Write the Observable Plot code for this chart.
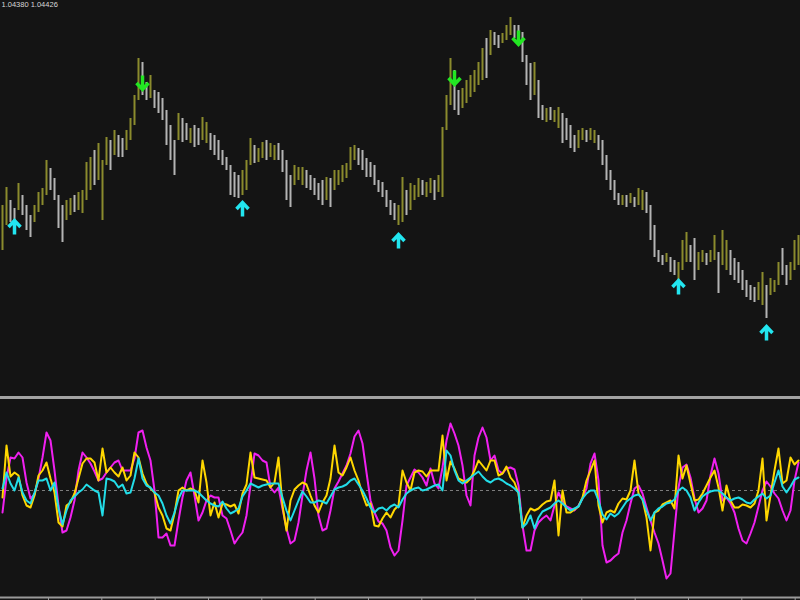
<!DOCTYPE html>
<html><head><meta charset="utf-8">
<script src="https://cdn.jsdelivr.net/npm/d3@7"></script>
<script src="https://cdn.jsdelivr.net/npm/@observablehq/plot@0.6"></script>
<style>
html,body{margin:0;padding:0;background:#141414;overflow:hidden;}
#chart{width:800px;height:600px;}
#chart svg{display:block;}
.sep{height:3px;background:#a3a3a3;}
</style></head><body><div id="chart"></div>
<script>
// header readout
const headerValues = ["1.04380", "1.04426"];

// price bars: high / low in pips above 1.0000
const barHigh = [
495,513,500,492,517,505,495,485,495,508,
512,540,532,522,505,495,500,502,505,508,
510,538,543,550,557,540,563,560,570,565,
562,570,582,605,642,638,618,625,610,608,
602,590,575,560,587,582,577,572,575,572,
583,578,567,565,560,550,543,535,528,525,
530,540,562,555,552,558,560,557,555,557,
550,540,525,535,533,533,530,525,522,517,
520,523,522,530,530,535,537,553,555,552,
550,542,538,535,520,518,510,500,497,495,
523,510,517,515,522,520,518,522,520,525,
573,605,642,630,610,612,620,625,630,638,
652,662,670,668,665,667,675,683,675,675,
668,645,637,638,620,595,592,593,590,593,
587,582,575,565,570,572,570,572,570,565,
560,545,530,520,507,505,505,507,503,512,
510,508,495,475,450,445,447,443,440,438,
460,468,455,462,448,450,447,450,465,448,
470,460,450,442,438,430,420,415,413,418,
428,415,422,420,438,452,435,438,460,465];
const barLow = [
450,475,478,478,490,485,470,463,478,488,
495,505,510,500,472,458,480,485,488,490,
487,500,510,515,520,480,535,530,545,543,
543,550,560,575,600,605,600,602,592,587,
580,555,540,525,560,558,560,557,553,555,
560,557,550,545,540,535,530,505,503,502,
505,510,535,537,538,542,540,543,540,540,
528,500,493,515,520,515,512,510,505,500,
495,500,493,510,515,518,522,530,540,535,
530,523,523,515,508,503,493,485,480,475,
478,485,490,500,503,505,503,507,500,508,
503,570,595,590,585,592,597,603,608,615,
620,622,645,655,652,657,660,665,662,660,
638,615,600,605,582,580,578,580,578,572,
557,560,552,548,552,560,558,560,557,550,
535,520,510,500,495,495,493,497,493,495,
490,487,460,443,438,435,438,428,425,420,
430,438,438,420,430,438,435,438,440,407,
435,430,425,420,417,410,403,400,398,400,
395,382,405,408,415,425,415,420,430,435];
// bar direction: U = up bar, D = down bar
const barDir = [
"UUDDUDDDUU","UUDDDDUUDU","UUUDUUUDUD","DUUUUDDUDD","DDDDUDDUDD",
"UUDDDDDDDD","UUUDUUDUUD","DDDUUUDDDD","DUDUUUUUUD","DDDDDDDDDU",
"UDUUUDUUDU","UUUDDUUUUU","UDUDDUUUDD","DDDUDDUDUU","DDDDUUDUUD",
"DDDDDUDUDU","UDDDDDUDDU","UUDDUUDUUD","UUDDDDDDDU","UDUUUDDUUU"].join("");

// signal arrows (bar index, level in pips above 1.0000)
const buyBars = [3, 60, 99, 169, 191];
const buyLevel = [473, 491, 459, 413, 367];
const sellBars = [35, 113, 129];
const sellLevel = [618, 623, 663];

// oscillator lines (one value per bar, 0 = dashed level)
const oscMagenta = [
-22,12,33,32,38,33,8,-8,-4,12,
33,58,50,20,-15,-42,-40,-27,-10,20,
38,33,27,19,10,12,18,23,28,30,
20,20,20,32,58,60,43,30,0,-47,
-47,-43,-55,-55,-30,-7,10,18,-5,-30,
-22,-10,-5,-7,-7,-25,-28,-40,-53,-47,
-42,-25,5,37,35,30,28,3,-2,3,
-18,-38,-53,-50,-32,-5,20,38,12,-25,
-40,-38,-20,2,9,17,25,37,54,60,
47,18,-10,-22,-31,-33,-40,-57,-65,-60,
-30,5,13,21,18,13,5,22,7,2,
23,50,67,57,45,25,-5,-15,35,53,
63,53,30,35,20,17,22,23,21,5,
-35,-60,-60,-40,-32,-28,-25,-30,-15,-2,
-10,-16,-18,-20,-15,-8,2,27,37,10,
-55,-72,-70,-66,-63,-42,-30,-13,2,5,
-3,-17,-30,-42,-53,-70,-88,-83,-40,3,
23,26,13,-8,-22,-18,-10,15,32,17,
-10,-7,-13,-22,-38,-50,-53,-43,-32,-16,
0,9,4,-3,-8,-20,-30,-20,10,28];
const oscYellow = [
-7,45,14,18,15,-5,-15,-17,-5,15,
20,28,12,-2,-32,-36,-15,-12,-3,12,
27,32,32,28,10,42,18,23,18,14,
23,10,15,38,33,17,7,2,-2,-17,
-25,-38,-40,-23,0,3,0,2,0,-12,
30,8,-25,-12,-27,-13,-14,-16,-14,-23,
-3,6,38,13,12,11,10,3,8,33,
-15,-40,-10,1,5,8,6,-5,-15,-22,
-12,-5,12,45,18,15,23,33,20,10,
-4,-15,-13,-35,-36,-28,-22,-27,-19,-15,
20,8,0,18,20,19,14,20,20,20,
55,10,29,22,12,10,8,12,20,30,
25,20,30,30,15,17,24,13,8,-3,
-37,-25,-18,-20,-18,-14,-11,-10,10,-45,
0,-22,-22,-19,-16,-7,10,20,30,-15,
-32,-22,-20,-22,-13,-8,-9,0,30,-3,
-9,-27,-60,-22,-20,-14,-12,-10,-18,35,
12,25,7,-10,-9,-3,5,13,20,3,
-20,5,-10,-17,-17,-14,-15,-17,-13,0,
32,-30,-5,20,42,7,10,33,26,30];
const oscCyan = [
2,18,7,0,13,-2,-10,-13,-2,10,
10,12,0,8,-18,-34,-20,-10,-6,-2,
1,6,3,0,-2,-25,12,11,9,3,
6,-3,-2,12,32,12,5,3,-2,-5,
-13,-25,-33,-22,-8,0,0,0,0,-2,
-6,-10,-13,-15,-16,-11,-18,-23,-21,-18,
-6,0,7,5,3,5,6,7,7,7,
-7,-20,-30,-20,-10,-1,-6,-12,-12,-10,
-11,-13,-6,1,3,4,6,10,12,6,
0,-8,-17,-22,-18,-17,-20,-16,-14,-17,
-9,-3,0,2,3,0,1,3,5,6,
0,40,35,20,10,7,10,13,16,19,
14,10,8,11,12,10,7,5,2,-2,
-37,-33,-25,-38,-27,-21,-19,-17,-13,-10,
-13,-17,-20,-18,-16,-8,-3,0,0,-10,
-24,-29,-23,-26,-23,-17,-11,-8,-5,-4,
-9,-20,-30,-22,-18,-16,-13,-12,-9,0,
3,0,-7,-20,-12,-6,-3,-1,0,0,
-3,-7,-10,-8,-7,-9,-12,-13,-9,-6,
-3,-8,-5,8,20,4,-2,4,11,13];

// time axis tick positions (in bars)
const timeTicks = [11.5, 24.83, 38.17, 51.5, 64.83, 78.17, 91.5, 104.83, 118.17, 131.5, 144.83, 158.17, 171.5, 184.83, 198.17];

const BG = "#141414";
const bars = barHigh.map((h, i) => ({i, high: h, low: barLow[i], up: barDir[i] === "U"}));
const buys = buyBars.map((b, k) => ({i: b, v: buyLevel[k]}));
const sells = sellBars.map((b, k) => ({i: b, v: sellLevel[k]}));

function arrowSymbol(dir) {
  return {
    draw(ctx, size) {
      const s = Math.sqrt(size / Math.PI) / 7;
      const d = dir; // -1 up, 1 down
      ctx.moveTo(0, -d * 7 * s);
      ctx.lineTo(0, d * 6 * s);
      ctx.moveTo(-6 * s, d * 0.5 * s);
      ctx.lineTo(0, d * 7 * s);
      ctx.lineTo(6 * s, d * 0.5 * s);
    }
  };
}

const xDomain = [-0.5, barHigh.length - 0.5];

const pricePane = Plot.plot({
  width: 800, height: 396,
  marginTop: 0, marginRight: 0, marginBottom: 0, marginLeft: 0,
  style: {background: BG, color: "#cccccc"},
  x: {domain: xDomain, axis: null},
  y: {domain: [304, 700], axis: null},
  marks: [
    Plot.ruleX(bars, {x: "i", y1: "low", y2: "high", stroke: d => d.up ? "#8b8b2d" : "#b4b4b4", strokeWidth: 2}),
    Plot.dot(buys, {x: "i", y: "v", r: 7, symbol: arrowSymbol(-1), fill: "none", stroke: "#22e6f0", strokeWidth: 3.5, strokeLinejoin: "miter", strokeLinecap: "butt"}),
    Plot.dot(sells, {x: "i", y: "v", r: 7, symbol: arrowSymbol(1), fill: "none", stroke: "#22e622", strokeWidth: 3.5, strokeLinejoin: "miter", strokeLinecap: "butt"}),
    Plot.text([headerValues.join(" ")], {frameAnchor: "top-left", dx: 1, dy: 1, lineAnchor: "top", textAnchor: "start", fill: "#d8d8d8", fontSize: 7.5, fontFamily: "Liberation Sans"})
  ]
});

const oscPane = Plot.plot({
  width: 800, height: 201,
  marginTop: 0, marginRight: 0, marginBottom: 3, marginLeft: 0,
  style: {background: BG, color: "#9a9a9a"},
  x: {domain: xDomain, ticks: timeTicks, tickSize: 3, tickFormat: () => "", tickPadding: 0, label: null},
  y: {domain: [-107, 91], axis: null},
  marks: [
    Plot.ruleY([0], {stroke: "#7c7c7c", strokeDasharray: "3,3", strokeWidth: 1}),
    Plot.line(oscMagenta, {x: (d, i) => i, y: d => d, stroke: "#f020f0", strokeWidth: 2}),
    Plot.line(oscYellow, {x: (d, i) => i, y: d => d, stroke: "#ffd700", strokeWidth: 2}),
    Plot.line(oscCyan, {x: (d, i) => i, y: d => d, stroke: "#22dde8", strokeWidth: 2}),
    Plot.ruleY([-107], {stroke: "#9a9a9a", strokeWidth: 2})
  ]
});

const chartEl = document.getElementById("chart");
chartEl.appendChild(pricePane);
const sep = document.createElement("div");
sep.className = "sep";
chartEl.appendChild(sep);
chartEl.appendChild(oscPane);
</script>
</body></html>
